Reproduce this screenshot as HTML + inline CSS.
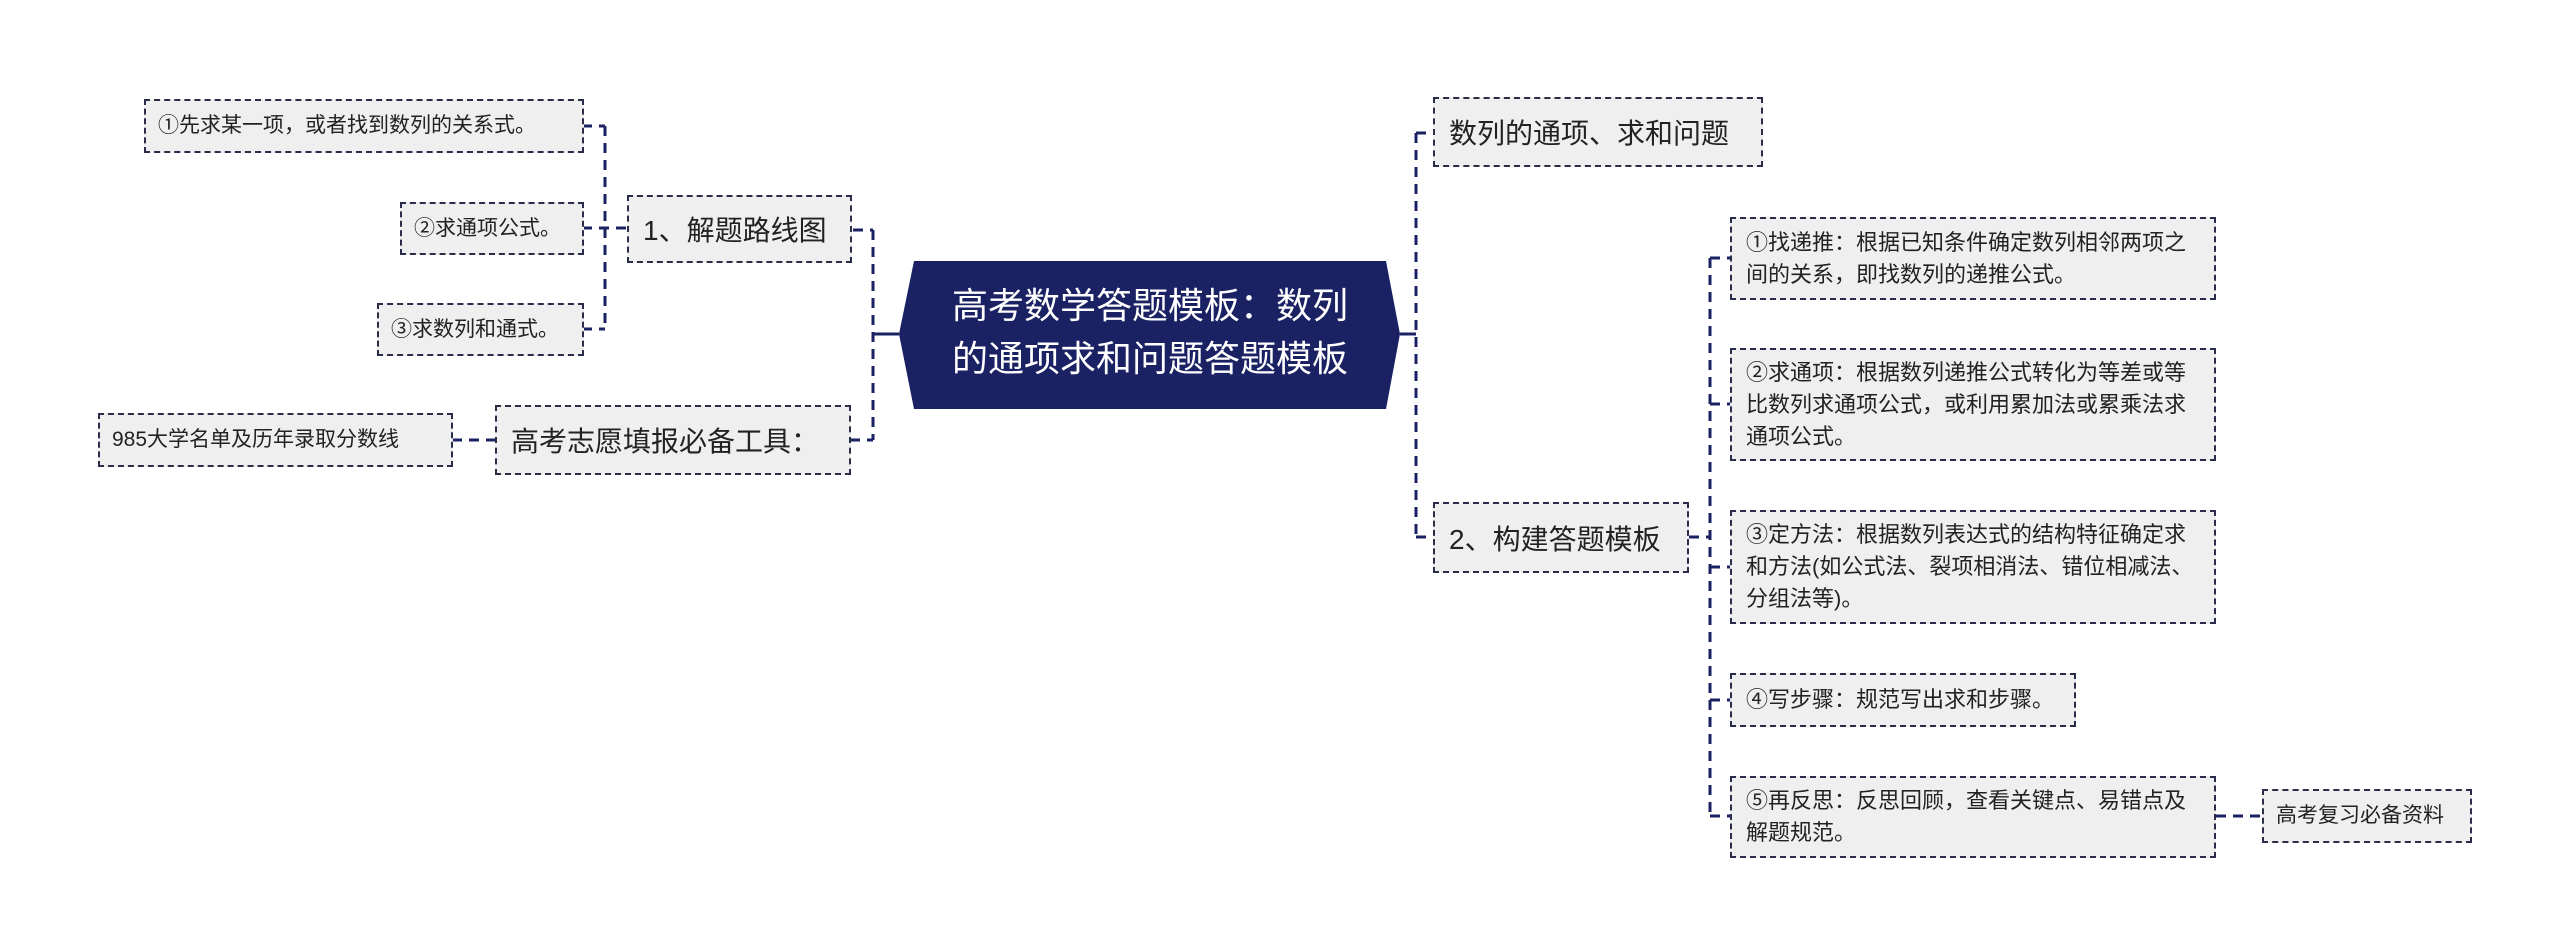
<!DOCTYPE html>
<html><head><meta charset="utf-8"><style>
body{margin:0;width:2560px;height:952px;background:#fff;position:relative;overflow:hidden;font-family:"Liberation Sans","Noto Sans CJK SC",sans-serif;}
.b{position:absolute;box-sizing:border-box;background:#efefef;border:2px dashed #2a2d4a;color:#222;display:flex;align-items:center;}
.s{font-size:21px;padding:0 12px;line-height:32px;}
.r{font-size:22px;padding:0 10px 0 14px;line-height:32px;}
.m{font-size:28px;padding:0 14px;}
svg{position:absolute;left:0;top:0;}
</style></head><body>
<svg width="2560" height="952">
<polygon points="914,261 1386,261 1400,334 1386,409 914,409 899,334" fill="#1b2263"/>
<g stroke="#1b2263" stroke-width="3" fill="none" stroke-dasharray="10,7">
<path d="M873,230 V440"/><path d="M853,230 H873"/><path d="M850,440 H873"/>
<path d="M605,126 V329"/><path d="M582,126 H605"/><path d="M582,228 H627"/><path d="M582,329 H605"/>
<path d="M452,440 H495"/>
<path d="M1416,133 V537"/><path d="M1416,133 H1433"/><path d="M1416,537 H1433"/>
<path d="M1710,258 V816"/><path d="M1689,537 H1710"/>
<path d="M1710,258 H1730"/><path d="M1710,404 H1730"/><path d="M1710,567 H1730"/><path d="M1710,700 H1730"/><path d="M1710,816 H1730"/>
<path d="M2216,816 H2262"/>
</g>
<path d="M873,334 H899 M1400,334 H1416" stroke="#1b2263" stroke-width="3"/>
<text x="1150" y="318" fill="#fff" font-size="36" text-anchor="middle" font-family="Liberation Sans, Noto Sans CJK SC, sans-serif">高考数学答题模板：数列</text>
<text x="1150" y="371" fill="#fff" font-size="36" text-anchor="middle" font-family="Liberation Sans, Noto Sans CJK SC, sans-serif">的通项求和问题答题模板</text>
</svg>
<div class="b m" style="left:627px;top:195px;width:225px;height:68px;">1、解题路线图</div>
<div class="b s" style="left:144px;top:99px;width:440px;height:54px;">①先求某一项，或者找到数列的关系式。</div>
<div class="b s" style="left:400px;top:202px;width:184px;height:53px;">②求通项公式。</div>
<div class="b s" style="left:377px;top:303px;width:207px;height:53px;">③求数列和通式。</div>
<div class="b s" style="left:98px;top:413px;width:355px;height:54px;">985大学名单及历年录取分数线</div>
<div class="b m" style="left:495px;top:405px;width:356px;height:70px;">高考志愿填报必备工具：</div>
<div class="b m" style="left:1433px;top:97px;width:330px;height:70px;">数列的通项、求和问题</div>
<div class="b m" style="left:1433px;top:502px;width:256px;height:71px;">2、构建答题模板</div>
<div class="b r" style="left:1730px;top:217px;width:486px;height:83px;">①找递推：根据已知条件确定数列相邻两项之间的关系，即找数列的递推公式。</div>
<div class="b r" style="left:1730px;top:348px;width:486px;height:113px;">②求通项：根据数列递推公式转化为等差或等比数列求通项公式，或利用累加法或累乘法求通项公式。</div>
<div class="b r" style="left:1730px;top:510px;width:486px;height:114px;">③定方法：根据数列表达式的结构特征确定求和方法(如公式法、裂项相消法、错位相减法、分组法等)。</div>
<div class="b r" style="left:1730px;top:673px;width:346px;height:54px;">④写步骤：规范写出求和步骤。</div>
<div class="b r" style="left:1730px;top:776px;width:486px;height:82px;">⑤再反思：反思回顾，查看关键点、易错点及解题规范。</div>
<div class="b s" style="left:2262px;top:789px;width:210px;height:54px;">高考复习必备资料</div>
</body></html>
